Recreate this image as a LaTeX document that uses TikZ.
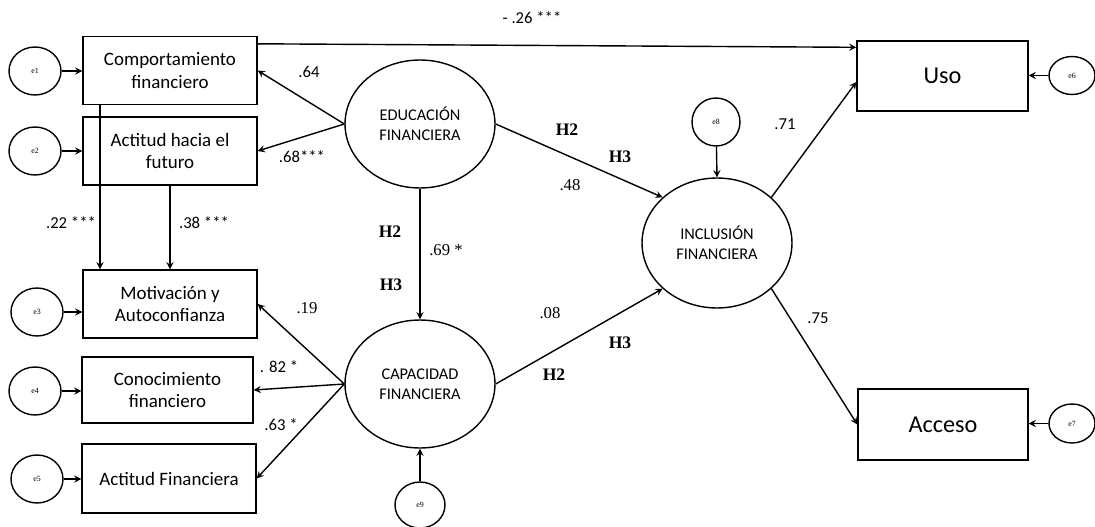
\documentclass[tikz,border=0pt]{standalone}
\usepackage{fontspec}
\setmainfont{Liberation Serif}
\setsansfont{Carlito}
\usetikzlibrary{shapes.geometric}
\begin{document}
\begin{tikzpicture}[x=0.02cm, y=-0.02cm, >=stealth, line width=0.8pt,
    obs/.style={draw, minimum width=3.48cm, minimum height=1.36cm, inner sep=1pt, align=center, font=\sffamily\fontsize{10.8}{13}\selectfont},
    big/.style={font=\sffamily\fontsize{13.8}{16}\selectfont},
    lat/.style={draw, ellipse, minimum width=3cm, minimum height=2.56cm, inner sep=0pt, align=center, font=\sffamily\fontsize{9.3}{11.4}\selectfont},
    err/.style={draw, ellipse, minimum width=1.04cm, minimum height=0.96cm, inner sep=0pt, font=\fontsize{4.5}{5}\selectfont},
    coef/.style={font=\sffamily\fontsize{9.5}{11}\selectfont},
    coefs/.style={font=\fontsize{9.5}{11}\selectfont},
    hyp/.style={font=\bfseries\fontsize{10}{12}\selectfont}]
    \useasboundingbox (0,0) rectangle (1095,527);
    % observed variables
    \node[obs] (comp) at (170,70.5) {Comportamiento\\financiero};
    \node[obs] (fut) at (170,151) {Actitud hacia el\\futuro};
    \node[obs] (mot) at (170,304) {Motivación y\\Autoconfianza};
    \node[obs, minimum width=3.42cm, minimum height=1.32cm] (con) at (167.5,390) {Conocimiento\\financiero};
    \node[obs, minimum height=1.38cm] (afin) at (169,478.5) {Actitud Financiera};
    \node[obs, big, minimum width=3.42cm, minimum height=1.4cm] (uso) at (942.5,76) {Uso};
    \node[obs, big, minimum width=3.4cm, minimum height=1.42cm] (acc) at (943,424.5) {Acceso};
    % latent variables
    \node[lat] (edu) at (420,124) {EDUCACIÓN\\FINANCIERA};
    \node[lat] (cap) at (420,384) {CAPACIDAD\\FINANCIERA};
    \node[lat, minimum height=2.6cm] (inc) at (717,243) {INCLUSIÓN\\FINANCIERA};
    % errors
    \node[err] (e1) at (35,71) {e1};
    \node[err] (e2) at (35,151) {e2};
    \node[err] (e3) at (37,312) {e3};
    \node[err] (e4) at (35,391) {e4};
    \node[err] (e5) at (37,479) {e5};
    \node[err, minimum width=0.92cm, minimum height=0.76cm] (e6) at (1072,75.5) {e6};
    \node[err, minimum width=0.92cm, minimum height=0.78cm] (e7) at (1072,423.5) {e7};
    \node[err, minimum width=0.96cm] (e8) at (716,122) {e8};
    \node[err, minimum width=1cm, minimum height=0.92cm] (e9) at (420,505) {e9};
    % paths
    \draw[->] (e1) -- (e1 -| comp.west);
    \draw[->] (e2) -- (e2 -| fut.west);
    \draw[->] (e3) -- (e3 -| mot.west);
    \draw[->] (e4) -- (e4 -| con.west);
    \draw[->] (e5) -- (e5 -| afin.west);
    \draw[->] (e6) -- (e6 -| uso.east);
    \draw[->] (e7) -- (e7 -| acc.east);
    \draw[->] (e8) -- (inc.north);
    \draw[->] (e9) -- (cap.south);
    \draw[->] ([xshift=-1.4cm]comp.south) -- ([xshift=-1.4cm]mot.north);
    \draw[->] (fut.south) -- (mot.north);
    \draw[->] ([yshift=-0.16cm]comp.north east) -- ([yshift=-0.14cm]uso.north west);
    \draw[->] (edu.west) -- (comp.east);
    \draw[->] (edu.west) -- (fut.east);
    \draw[->] (edu.south) -- (cap.north);
    \draw[->] (edu.east) -- (inc.140);
    \draw[->] (cap.west) -- (mot.east);
    \draw[->] (cap.west) -- (con.east);
    \draw[->] (cap.west) -- (afin.east);
    \draw[->] (cap.east) -- (inc.220);
    \draw[->] (inc.40) -- ([yshift=-0.12cm]uso.west);
    \draw[->] (inc.320) -- (acc.west);
    % coefficients
    \node[coef] (c26) at (532,18) {- .26 ***};
    \node[coef] (c64) at (309,72) {.64};
    \node[coef] (c68) at (302,157) {.68***};
    \node[coef] (c22) at (71,223) {.22 ***};
    \node[coef] (c38) at (204,223) {.38 ***};
    \node[coefs] (c19) at (307,308) {.19};
    \node[coef] (c82) at (279,367) {. 82 *};
    \node[coef] (c63) at (281,425) {.63 *};
    \node[coefs] (c48) at (570,185) {.48};
    \node[coefs] (c69) at (446,250) {.69 *};
    \node[coefs] (c08) at (550,313) {.08};
    \node[coef] (c71) at (785,124) {.71};
    \node[coef] (c75) at (818,318) {.75};
    % hypotheses
    \node[hyp] (h2a) at (567,130) {H2};
    \node[hyp] (h3a) at (620,157) {H3};
    \node[hyp] (h2b) at (390,232) {H2};
    \node[hyp] (h3b) at (391,285) {H3};
    \node[hyp] (h3c) at (620,343) {H3};
    \node[hyp] (h2c) at (554,375) {H2};
\end{tikzpicture}
\end{document}
